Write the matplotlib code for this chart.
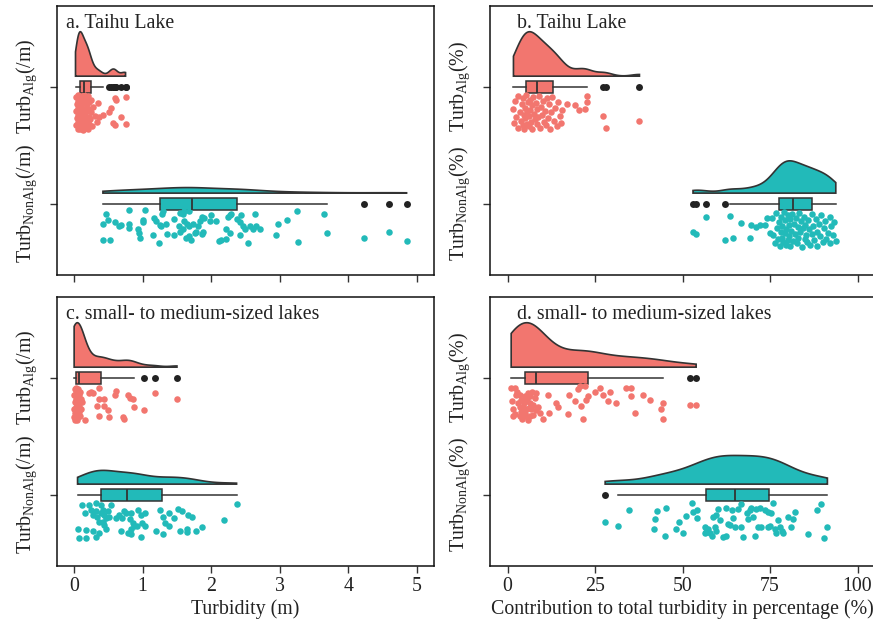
import numpy as np
import matplotlib.pyplot as plt

plt.rcParams['font.family'] = 'Liberation Serif'
plt.rcParams['mathtext.fontset'] = 'custom'
plt.rcParams['mathtext.rm'] = 'Liberation Serif'
plt.rcParams['mathtext.it'] = 'Liberation Serif:italic'

RED = '#F2766F'
TEAL = '#22BAB9'
EDGE = '#333333'
FS = 14.3

# ---- a. Taihu Lake, turbidity (/m) ----
taihu_alg_x = [0.02, 0.03, 0.03, 0.04, 0.04, 0.05, 0.05, 0.05, 0.06, 0.06,
               0.06, 0.06, 0.07, 0.07, 0.07, 0.07, 0.08, 0.08, 0.08, 0.08,
               0.09, 0.09, 0.09, 0.10, 0.10, 0.10, 0.11, 0.11, 0.12, 0.12,
               0.13, 0.13, 0.14, 0.14, 0.15, 0.15, 0.16, 0.16, 0.17, 0.17,
               0.18, 0.18, 0.19, 0.19, 0.20, 0.20, 0.21, 0.21, 0.22, 0.22,
               0.23, 0.24, 0.25, 0.26, 0.28, 0.30, 0.33, 0.35,
               0.37, 0.42, 0.51, 0.54, 0.56, 0.59, 0.59, 0.61, 0.69, 0.75, 0.75]
taihu_alg_j = [0.21, 0.33, 0.09, 0.27, 0.15, 0.36, 0.12, 0.24, 0.30, 0.07,
               0.18, 0.34, 0.22, 0.10, 0.28, 0.16, 0.35, 0.13, 0.25, 0.08,
               0.31, 0.19, 0.36, 0.11, 0.26, 0.17, 0.32, 0.09, 0.23, 0.29,
               0.14, 0.37, 0.20, 0.07, 0.27, 0.33, 0.12, 0.24, 0.18, 0.35,
               0.10, 0.30, 0.21, 0.15, 0.36, 0.08, 0.26, 0.19, 0.32, 0.13,
               0.28, 0.22, 0.11, 0.34, 0.17, 0.25, 0.30, 0.14,
               0.26, 0.24, 0.22, 0.18, 0.31, 0.10, 0.33, 0.11, 0.26, 0.09, 0.32]

taihu_non_x = [0.80, 1.03, 1.29, 1.54, 1.61, 1.68, 1.28, 2.64, 3.25, 3.65,
               0.47, 2.00, 2.27, 2.29, 2.44, 1.86,
               0.42, 0.50, 0.59, 0.65, 0.68, 0.80, 0.80, 1.00, 1.01, 1.17,
               1.20, 1.25, 1.27, 1.34, 1.46, 1.53, 1.59, 1.61, 1.64, 1.68,
               1.73, 1.81, 1.83, 1.89, 1.98, 2.07, 2.22, 2.25, 2.37, 2.42,
               2.47, 2.49, 2.61, 2.66, 2.71, 2.98, 3.10,
               0.42, 0.52, 0.93, 0.95, 0.96, 1.15, 1.24, 1.35, 1.46, 1.54,
               1.63, 1.71, 1.76, 1.78, 1.86, 1.88, 2.12, 2.14, 2.22, 2.27,
               2.42, 2.54, 2.56, 2.95, 3.27, 3.69, 4.23, 4.60, 4.85, 1.68, 1.59]
taihu_non_j = [0.05, 0.05, 0.06, 0.08, 0.06, 0.06, 0.09, 0.09, 0.06, 0.09,
               0.09, 0.10, 0.10, 0.09, 0.10, 0.11,
               0.17, 0.14, 0.16, 0.19, 0.18, 0.17, 0.21, 0.14, 0.16, 0.12,
               0.15, 0.18, 0.19, 0.17, 0.13, 0.19, 0.09, 0.15, 0.17, 0.19,
               0.17, 0.19, 0.15, 0.12, 0.15, 0.15, 0.22, 0.11, 0.13, 0.16,
               0.19, 0.22, 0.22, 0.19, 0.22, 0.17, 0.14,
               0.31, 0.31, 0.22, 0.25, 0.29, 0.27, 0.34, 0.26, 0.27, 0.24,
               0.29, 0.31, 0.25, 0.24, 0.26, 0.24, 0.32, 0.31, 0.30, 0.25,
               0.27, 0.34, 0.19, 0.27, 0.33, 0.25, 0.29, 0.24, 0.32, 0.28, 0.22]

# ---- b. Taihu Lake, contribution (%) ----
taihu_alg_pct_x = [1.7, 1.9, 2.2, 2.5, 3.0, 3.1, 3.6, 3.8, 4.0, 4.3,
                   4.5, 4.6, 4.8, 5.0, 5.1, 5.3, 5.5, 5.6, 5.8, 6.0,
                   6.2, 6.4, 6.5, 6.7, 6.9, 7.1, 7.3, 7.5, 7.8, 8.0,
                   8.3, 8.5, 8.8, 9.0, 9.2, 9.5, 9.8, 10.0, 10.3, 10.6,
                   10.9, 11.2, 11.5, 11.8, 12.1, 12.5, 12.8, 13.2, 13.6, 14.0,
                   14.4, 14.9, 15.3, 15.6,
                   16.9, 19.2, 20.5, 22.0, 22.6, 22.8, 27.3, 28.0, 37.7]
taihu_alg_pct_j = [0.19, 0.31, 0.12, 0.26, 0.35, 0.08, 0.22, 0.29, 0.15, 0.33,
                   0.10, 0.24, 0.36, 0.18, 0.27, 0.07, 0.21, 0.32, 0.13, 0.25,
                   0.34, 0.11, 0.20, 0.30, 0.16, 0.36, 0.09, 0.23, 0.28, 0.14,
                   0.32, 0.19, 0.26, 0.08, 0.35, 0.17, 0.24, 0.12, 0.30, 0.21,
                   0.33, 0.10, 0.27, 0.15, 0.36, 0.22, 0.09, 0.29, 0.18, 0.34,
                   0.13, 0.25, 0.31, 0.20,
                   0.145, 0.16, 0.20, 0.19, 0.077, 0.13, 0.254, 0.356, 0.296]

taihu_non_pct_x = [53.0, 53.8, 56.6, 62.0, 63.7, 64.4, 66.8, 69.2, 69.7, 71.1,
                   72.1, 73.5, 74.0, 74.9,
                   75.5, 75.9, 76.3, 76.8, 77.0, 77.2, 77.5, 77.8, 78.0, 78.1,
                   78.3, 78.5, 78.8, 79.0, 79.2, 79.4, 79.5, 79.7, 80.0, 80.2,
                   80.3, 80.4, 80.6, 80.8, 81.0, 81.2, 81.5, 81.8, 82.0, 82.3,
                   82.6, 82.9, 83.0, 83.2, 83.5, 83.8, 84.1, 84.4, 84.7, 84.9,
                   85.0, 85.3, 85.6, 85.9, 86.2, 86.5, 86.9, 87.0, 87.3, 87.7,
                   88.1, 88.3, 88.5, 88.9, 89.3, 89.7, 90.1, 90.5, 90.8, 91.0,
                   91.5, 92.0, 92.2, 92.5, 93.0, 93.3, 93.8]
taihu_non_pct_j = [0.245, 0.259, 0.114, 0.308, 0.108, 0.293, 0.165, 0.293, 0.185, 0.202,
                   0.179, 0.179, 0.123, 0.251,
                   0.12, 0.27, 0.34, 0.08, 0.21, 0.30, 0.16, 0.36, 0.24, 0.11,
                   0.29, 0.19, 0.33, 0.07, 0.25, 0.14, 0.35, 0.22, 0.10, 0.31,
                   0.18, 0.28, 0.13, 0.36, 0.23, 0.09, 0.32, 0.17, 0.26, 0.12,
                   0.34, 0.20, 0.29, 0.08, 0.24, 0.15, 0.37, 0.21, 0.11, 0.30,
                   0.18, 0.27, 0.33, 0.14, 0.22, 0.35, 0.09, 0.26, 0.19, 0.31,
                   0.13, 0.24, 0.36, 0.17, 0.28, 0.10, 0.33, 0.21, 0.15, 0.30,
                   0.25, 0.11, 0.34, 0.19, 0.27, 0.16, 0.32]

# ---- c. small- to medium-sized lakes, turbidity (/m) ----
small_alg_x = [0.00, 0.00, 0.00, 0.01, 0.01, 0.01, 0.01, 0.02, 0.02, 0.02,
               0.02, 0.02, 0.03, 0.03, 0.03, 0.03, 0.03, 0.04, 0.04, 0.04,
               0.04, 0.04, 0.05, 0.05, 0.05, 0.05, 0.06, 0.06, 0.06, 0.07,
               0.07, 0.07, 0.08, 0.08, 0.10, 0.10, 0.12,
               0.16, 0.21, 0.24, 0.27, 0.33, 0.36, 0.37, 0.37, 0.43, 0.44,
               0.49, 0.51, 0.59, 0.61, 0.71, 0.73, 0.78, 0.81, 0.86, 0.87,
               1.015, 1.18, 1.50]
small_alg_j = [0.15, 0.27, 0.34, 0.10, 0.21, 0.30, 0.36, 0.13, 0.18, 0.25,
               0.32, 0.35, 0.09, 0.20, 0.28, 0.14, 0.33, 0.11, 0.23, 0.30,
               0.17, 0.36, 0.12, 0.26, 0.19, 0.31, 0.10, 0.22, 0.34, 0.15,
               0.29, 0.24, 0.12, 0.33, 0.18, 0.27, 0.21,
               0.36, 0.13, 0.12, 0.13, 0.24, 0.18, 0.33, 0.09, 0.18, 0.24,
               0.28, 0.34, 0.15, 0.11, 0.34, 0.35, 0.15, 0.17, 0.18, 0.25,
               0.28, 0.13, 0.18]

small_non_x = [0.12, 0.22, 0.32, 0.39, 0.54, 0.16, 0.24, 0.27, 0.32, 0.34,
               0.39, 0.42, 0.44, 0.46, 0.49, 0.51, 0.42, 0.44, 0.46, 0.37,
               0.61, 0.66, 0.73, 0.76, 0.83, 0.81, 0.86, 0.88, 0.83, 0.93,
               0.98, 1.03, 1.03, 0.68, 0.83, 0.05, 0.17, 0.27, 0.37, 0.32,
               0.07, 0.17,
               0.70, 0.92, 0.99, 0.97, 0.78,
               1.29, 1.39, 1.51, 1.58, 1.66, 1.72, 1.39, 1.54, 1.64, 1.78,
               1.87, 1.196, 1.29, 1.64, 1.25, 1.33, 1.45, 2.19, 2.37]
small_non_j = [0.09, 0.09, 0.07, 0.09, 0.09, 0.16, 0.13, 0.17, 0.14, 0.19,
               0.16, 0.13, 0.17, 0.20, 0.14, 0.19, 0.23, 0.26, 0.29, 0.23,
               0.20, 0.17, 0.14, 0.16, 0.16, 0.21, 0.24, 0.27, 0.29, 0.13,
               0.17, 0.16, 0.27, 0.31, 0.34, 0.29, 0.30, 0.31, 0.33, 0.36,
               0.37, 0.37,
               0.20, 0.27, 0.24, 0.36, 0.33,
               0.19, 0.16, 0.12, 0.14, 0.17, 0.19, 0.27, 0.31, 0.29, 0.31,
               0.28, 0.31, 0.34, 0.32, 0.13, 0.24, 0.20, 0.22, 0.08]

# ---- d. small- to medium-sized lakes, contribution (%) ----
small_alg_pct_x = [1.05, 2.0, 2.5, 1.5, 1.5, 2.95, 3.43, 3.9, 4.38, 4.86,
                   5.33, 5.81, 6.29, 6.76, 7.24, 7.72, 8.19, 8.67, 9.15, 10.1,
                   4.86, 3.43, 5.81, 3.9, 5.33, 7.24, 6.29,
                   1.2, 2.2, 2.8, 3.6, 4.1, 4.6, 5.1, 5.6, 6.0, 6.5, 7.0, 8.0,
                   11.5, 11.8, 13.9, 14.4, 17.2, 17.7, 19.2, 20.1, 20.6, 21.1,
                   21.5, 22.0, 22.5, 23.0, 24.9, 26.3, 27.3, 29.2, 28.7, 31.1,
                   33.9, 35.4, 35.4, 36.3, 38.7, 40.6, 43.9, 44.4, 44.4, 52.0,
                   53.9]
small_alg_pct_j = [0.09, 0.09, 0.15, 0.27, 0.33, 0.22, 0.15, 0.19, 0.25, 0.16,
                   0.20, 0.13, 0.22, 0.27, 0.32, 0.17, 0.13, 0.25, 0.30, 0.35,
                   0.33, 0.33, 0.36, 0.29, 0.27, 0.23, 0.16,
                   0.20, 0.31, 0.12, 0.25, 0.35, 0.22, 0.30, 0.18, 0.26, 0.33, 0.12, 0.28,
                   0.15, 0.30, 0.22, 0.25, 0.31, 0.15, 0.20, 0.10, 0.07, 0.24,
                   0.35, 0.07, 0.19, 0.16, 0.12, 0.09, 0.15, 0.12, 0.20, 0.22,
                   0.09, 0.09, 0.16, 0.30, 0.15, 0.19, 0.27, 0.22, 0.35, 0.23,
                   0.23]

small_non_pct_x = [27.9, 31.5, 34.7, 41.9, 42.1, 42.8, 45.2, 45.1, 48.0, 48.9,
                   50.2, 51.1, 52.7, 53.0, 54.0, 54.0, 56.4, 56.8, 57.8, 58.3,
                   57.3, 58.7, 59.2, 59.7, 60.2, 60.6, 61.6, 62.5, 63.0, 63.5,
                   64.0, 64.4, 64.9, 65.9, 66.8, 67.3, 66.8, 68.3, 68.7, 69.2,
                   69.7, 70.2, 71.1, 71.6, 72.1, 72.5, 73.5, 74.5, 74.5, 74.9,
                   75.4, 75.9, 76.4, 76.8, 77.3, 77.8, 78.3, 78.7, 80.2, 81.1,
                   81.6, 82.1, 85.9, 88.3, 89.7, 90.5, 91.4, 70.6, 62.5, 59.7,
                   56.4]
small_non_pct_j = [0.23, 0.27, 0.13, 0.29, 0.21, 0.14, 0.11, 0.35, 0.29, 0.23,
                   0.33, 0.18, 0.07, 0.15, 0.13, 0.20, 0.28, 0.32, 0.33, 0.35,
                   0.29, 0.19, 0.28, 0.17, 0.12, 0.22, 0.36, 0.11, 0.25, 0.26,
                   0.13, 0.20, 0.28, 0.12, 0.08, 0.36, 0.28, 0.16, 0.21, 0.13,
                   0.11, 0.19, 0.12, 0.28, 0.11, 0.28, 0.13, 0.15, 0.28, 0.27,
                   0.16, 0.07, 0.29, 0.33, 0.22, 0.28, 0.31, 0.33, 0.19, 0.28,
                   0.21, 0.15, 0.34, 0.13, 0.08, 0.37, 0.28, 0.35, 0.35, 0.31,
                   0.33]


def bw_nrd0(x):
    q75, q25 = np.percentile(x, [75, 25])
    lo = min(np.std(x, ddof=1), (q75 - q25) / 1.34)
    return 0.9 * lo * len(x) ** -0.2


def kde(x):
    x = np.asarray(x, float)
    h = bw_nrd0(x)
    grid = np.linspace(x.min(), x.max(), 512)
    d = np.exp(-0.5 * ((grid[:, None] - x[None, :]) / h) ** 2).sum(1)
    return grid, d / (len(x) * h * np.sqrt(2 * np.pi))


def raincloud(ax, groups):
    dens = [kde(g[0]) for g in groups]
    peak = max(d.max() for _, d in dens)
    for (vals, jit, pos, color), (gx, gd) in zip(groups, dens):
        base = pos + 0.09
        top = base + gd / peak * 0.38
        ax.fill(np.r_[gx, gx[::-1]], np.r_[top, np.full_like(gx, base)],
                facecolor=color, edgecolor=EDGE, lw=1.2, zorder=2)
        ax.boxplot(vals, positions=[pos], widths=0.1, orientation='horizontal',
                   patch_artist=True, showcaps=False, manage_ticks=False,
                   boxprops=dict(facecolor=color, edgecolor=EDGE, lw=1.1),
                   whiskerprops=dict(color=EDGE, lw=1.1),
                   medianprops=dict(color=EDGE, lw=1.3),
                   flierprops=dict(marker='o', markerfacecolor='#222222',
                                   markeredgecolor='none', markersize=5),
                   zorder=3)
        ax.scatter(vals, pos - np.asarray(jit), s=22, color=color, lw=0, zorder=3)


fig = plt.figure(figsize=(8.73, 6.23), dpi=100)
W, H = 873, 623

def add_axes(l, r, t, b):
    return fig.add_axes([l / W, 1 - b / H, (r - l) / W, (b - t) / H])

axa = add_axes(57, 434, 6, 275)
axb = add_axes(490, 875, 6, 275)
axc = add_axes(57, 434, 297, 566)
axd = add_axes(490, 875, 297, 566)

raincloud(axa, [(taihu_alg_x, taihu_alg_j, 2, RED), (taihu_non_x, taihu_non_j, 1, TEAL)])
raincloud(axb, [(taihu_alg_pct_x, taihu_alg_pct_j, 2, RED), (taihu_non_pct_x, taihu_non_pct_j, 1, TEAL)])
raincloud(axc, [(small_alg_x, small_alg_j, 2, RED), (small_non_x, small_non_j, 1, TEAL)])
raincloud(axd, [(small_alg_pct_x, small_alg_pct_j, 2, RED), (small_non_pct_x, small_non_pct_j, 1, TEAL)])

lab_m = [r'Turb$_{\mathrm{NonAlg}}$(/m)', r'Turb$_{\mathrm{Alg}}$(/m)']
lab_p = [r'Turb$_{\mathrm{NonAlg}}$(%)', r'Turb$_{\mathrm{Alg}}$(%)']
titles = ['a. Taihu Lake', 'b. Taihu Lake',
          'c. small- to medium-sized lakes', 'd. small- to medium-sized lakes']

for i, ax in enumerate([axa, axb, axc, axd]):
    ax.set_ylim(0.39, 2.69)
    ax.set_yticks([1, 2], lab_m if i % 2 == 0 else lab_p, rotation=90, va='center')
    if i % 2 == 0:
        ax.set_xlim(-0.25, 5.25)
        ax.set_xticks([0, 1, 2, 3, 4, 5])
    else:
        ax.set_xlim(-5, 105)
        ax.set_xticks([0, 25, 50, 75, 100])
    ax.tick_params(direction='out', length=5, width=1, color=EDGE,
                   labelsize=FS, labelcolor='#222222', pad=3)
    ax.tick_params(axis='y', pad=8)
    if i < 2:
        ax.tick_params(axis='x', labelbottom=False)
    for s in ax.spines.values():
        s.set_linewidth(1.1)
        s.set_color('#111111')
    tx = 9 / 377 if i % 2 == 0 else 27 / 385
    ax.text(tx, 0.97, titles[i], transform=ax.transAxes, ha='left', va='top',
            fontsize=FS, color='#222222')

axc.set_xlabel('Turbidity (m)', fontsize=FS, color='#222222', labelpad=2)
axd.set_xlabel('Contribution to total turbidity in percentage (%)', fontsize=FS,
               color='#222222', labelpad=2)

fig.savefig('out.png', dpi=100)
